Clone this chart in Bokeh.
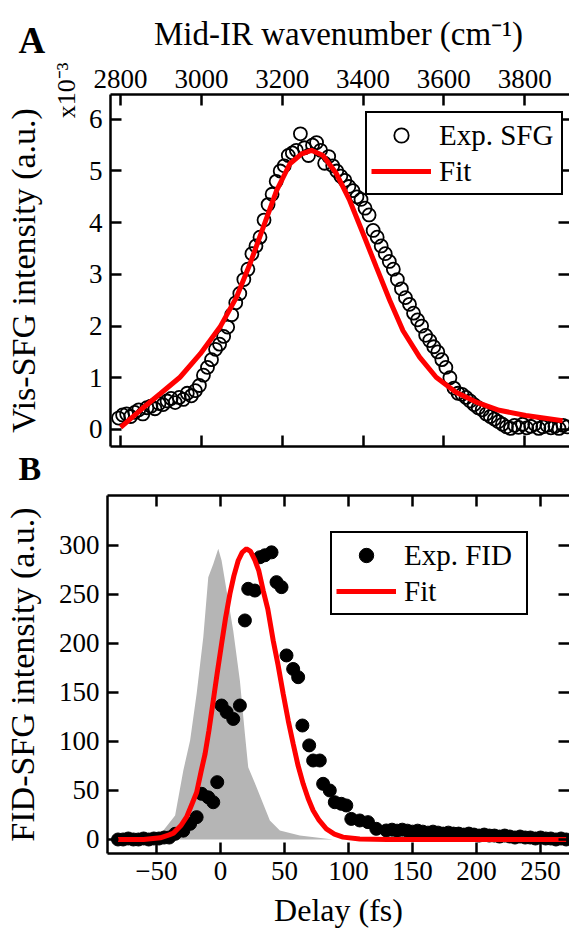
import math
from bokeh.plotting import figure
from bokeh.models import Range1d, LinearAxis, FixedTicker, Legend, LegendItem, Title, Plot
from bokeh.core.properties import value
from bokeh.layouts import column
from bokeh.embed import file_html
from bokeh.resources import INLINE

FONT = "Liberation Serif"

# ---------------- Panel A data ----------------
sfg_wn = [2795, 2805, 2815, 2825, 2835, 2845, 2855, 2865, 2875, 2885, 2895, 2905, 2915, 2925,
          2935, 2945, 2955, 2965, 2975, 2985, 2995, 3005, 3015, 3025, 3035, 3045, 3055, 3065,
          3075, 3085, 3095, 3105, 3115, 3125, 3135, 3145, 3155, 3165, 3175, 3185, 3195, 3205,
          3215, 3225, 3235, 3245, 3255, 3265, 3275, 3285, 3295, 3305, 3315, 3325, 3335, 3345,
          3355, 3365, 3375, 3385, 3395, 3405, 3415, 3425, 3435, 3445, 3455, 3465, 3475, 3485,
          3495, 3505, 3515, 3525, 3535, 3545, 3555, 3565, 3575, 3585, 3595, 3605, 3615, 3625,
          3635, 3645, 3655, 3665, 3675, 3685, 3695, 3705, 3715, 3725, 3735, 3745, 3755, 3765,
          3775, 3785, 3795, 3805, 3815, 3825, 3835, 3845, 3855, 3865, 3875, 3885, 3895, 3905]
sfg_int = [0.22, 0.28, 0.30, 0.25, 0.33, 0.38, 0.30, 0.42, 0.45, 0.40, 0.50, 0.48, 0.55, 0.60,
           0.52, 0.62, 0.58, 0.70, 0.65, 0.75, 0.85, 1.05, 1.20, 1.35, 1.55, 1.65, 1.80, 1.98,
           2.22, 2.45, 2.63, 2.90, 3.10, 3.40, 3.55, 3.72, 4.05, 4.35, 4.55, 4.80, 5.00, 5.10,
           5.30, 5.35, 5.40, 5.72, 5.45, 5.30, 5.50, 5.55, 5.40, 5.15, 5.28, 5.10, 5.00, 4.90,
           4.82, 4.70, 4.62, 4.50, 4.45, 4.28, 4.15, 3.85, 3.72, 3.55, 3.40, 3.25, 3.10, 2.90,
           2.72, 2.55, 2.42, 2.25, 2.12, 2.00, 1.82, 1.72, 1.60, 1.50, 1.35, 1.20, 1.00, 0.80,
           0.70, 0.68, 0.62, 0.55, 0.48, 0.42, 0.38, 0.30, 0.25, 0.20, 0.15, 0.10, 0.05, 0.02,
           0.08, 0.04, 0.10, 0.03, 0.06, 0.10, 0.02, 0.05, 0.08, 0.03, 0.06, 0.02, 0.08, 0.05]

fitA_wn = [2800, 2850, 2898, 2947, 2997, 3046, 3087, 3120, 3153, 3186, 3219, 3248, 3272,
           3301, 3334, 3367, 3400, 3433, 3466, 3499, 3540, 3581, 3630, 3680, 3737, 3803, 3894]
fitA_int = [0.04, 0.38, 0.69, 1.01, 1.46, 1.98, 2.56, 3.20, 3.91, 4.62, 5.14, 5.33, 5.40,
            5.30, 4.95, 4.43, 3.79, 3.14, 2.50, 1.91, 1.40, 1.01, 0.72, 0.53, 0.37, 0.27, 0.17]

wn_ticks = [2800, 3000, 3200, 3400, 3600, 3800]
a_yticks = [0, 1, 2, 3, 4, 5, 6]

# ---------------- Panel B data ----------------
fid_delay = [-80, -76, -72, -68, -64, -60, -56, -52, -48, -44, -40, -35.4, -29, -23.7, -18.6,
             -14.7, -9.5, -5.6, -2.5, 0.9, 4.8, 10, 15.2, 19.1, 21.7, 26.9, 30.8, 34.7, 39.9,
             43.8, 47.7, 51.6, 56.8, 60.7, 64, 69.3, 72.4, 77.6, 80.2, 85.4, 89.3, 94.4, 98.3,
             102.2, 108.8, 115.2, 121.7, 129.5, 134, 138, 142, 146, 150, 154, 158, 162, 166,
             170, 174, 178, 182, 186, 190, 194, 198, 202, 206, 210, 214, 218, 222, 226, 230,
             234, 238, 242, 246, 250, 254, 258, 262, 266, 270]
fid_int = [0, 0, 1, 0, 0, 1, 0, 1, 1, 2, 2, 5.8, 9, 16, 22.8,
           46.6, 43, 38, 58.5, 136.7, 130, 123, 136.7, 223.5, 255.8, 254, 288, 290, 293,
           262.6, 257.5, 187.8, 174, 165.6, 116.3, 96, 80.6, 80.6, 56.8, 50, 38, 36.4, 34.7,
           21, 19.4, 17.7, 10.9, 9.2, 10, 9, 10, 9, 8, 9, 8, 7, 8,
           7, 6, 7, 6, 6, 5, 6, 5, 4, 5, 4, 4, 3, 4, 3, 2,
           3, 2, 2, 1, 2, 1, 1, 0, 1, 0]

fitB_delay = [-80, -60, -47, -40, -36.7, -31, -26.4, -22, -18.6, -15, -12, -9, -5.6, -2.5, 0.9,
              4, 7.4, 10.5, 13.9, 17, 20.4, 23.5, 26.9, 30, 33.4, 37, 41.2, 45, 49, 53, 56.8,
              60.5, 64.6, 68.5, 72.4, 77, 82.7, 89, 95.7, 108.8, 130, 170, 220, 270]
fitB_int = [0, 0, 1.7, 4.7, 6.5, 14, 23, 37, 48, 70, 87.4, 111, 141.8, 170, 199.7,
            226, 250.7, 269, 284.7, 293, 296.6, 294, 285, 274, 254, 235, 203, 178, 148.7, 121, 97.7,
            76, 56.8, 41.8, 29.6, 19.7, 10.9, 5.5, 2.4, 0.5, 0, 0, 0, 0]

irf_delay = [-49.7, -35.4, -29, -23.7, -18.6, -13.4, -9.5, -5.6, -1.7, 0.9, 4.8, 10, 15.2,
             19.1, 21.7, 28.2, 38.6, 46.4, 62, 88]
irf_int = [0.7, 24.5, 70.4, 101, 148.6, 206.4, 267.7, 281, 296.6, 284.7, 254, 213, 162,
           107.8, 73.8, 53.4, 19.4, 9.2, 4.1, 0]
irf_base = [0] * len(irf_delay)

delay_ticks = [-50, 0, 50, 100, 150, 200, 250]
b_yticks = [0, 50, 100, 150, 200, 250, 300]

RED = "#ff0000"
GRAY = "#b5b5b5"
W = 569
HAS_FRAME_ALIGN = "frame_align" in Plot.properties()
MID = 0.3375  # offset of the drawn text centre above its baseline, in em


def no_align(p):
    if HAS_FRAME_ALIGN:
        p.frame_align = False


def style_axis(ax, ticks, labels=True, size="27px", line=True):
    ax.ticker = FixedTicker(ticks=ticks)
    ax.major_tick_in = 11
    ax.major_tick_out = 0
    ax.minor_tick_in = 0
    ax.minor_tick_out = 0
    ax.major_tick_line_width = 2.5
    ax.major_tick_line_color = "black"
    ax.axis_line_width = 2.5
    ax.axis_line_color = "black" if line else None
    if labels:
        ax.major_label_text_font = FONT
        ax.major_label_text_font_size = size
        ax.major_label_text_color = "black"
    else:
        ax.major_label_text_font_size = "0px"
        ax.major_label_text_color = None
        ax.major_label_standoff = 0


def style_label(ax, size="33px", standoff=8):
    ax.axis_label_text_font = FONT
    ax.axis_label_text_font_size = size
    ax.axis_label_text_font_style = "normal"
    ax.axis_label_text_color = "black"
    ax.axis_label_standoff = standoff


def style_legend(leg, loc):
    leg.location = loc
    leg.label_text_font = FONT
    leg.label_text_font_size = "29px"
    leg.label_text_color = "black"
    leg.glyph_width = 60
    leg.glyph_height = 36
    leg.label_height = 36
    leg.label_width = 118
    leg.label_standoff = 8
    leg.padding = 4
    leg.spacing = 0
    leg.margin = 0
    leg.border_line_color = "black"
    leg.border_line_alpha = 1.0
    leg.border_line_width = 2.5
    leg.background_fill_color = "white"
    leg.background_fill_alpha = 1.0


def clean(p):
    p.outline_line_color = None
    p.background_fill_color = "white"
    p.border_fill_color = "white"
    p.xgrid.grid_line_color = None
    p.ygrid.grid_line_color = None
    no_align(p)


def text_strip(h):
    # a strip whose frame is the whole canvas; y runs downward in pixels
    s = figure(frame_width=W, frame_height=h, x_range=Range1d(0, W), y_range=Range1d(h, 0),
               output_backend="svg", toolbar_location=None, x_axis_location=None,
               y_axis_location=None, min_border=0)
    clean(s)
    return s


def strip_text(s, x, baseline, txt, size, bold=False, align="left"):
    s.text(x=[x], y=[baseline - MID * size], text=[txt], text_font=value(FONT),
           text_font_size=f"{size}px", text_font_style="bold" if bold else "normal",
           text_baseline="middle", text_align=align, text_color="black")


# ---------------- header strip (panel letter A + top axis title) ----------------
HEAD = 60
head = text_strip(HEAD)
strip_text(head, 18, 52, "A", 37, bold=True)
strip_text(head, 338, 45, "Mid-IR wavenumber (cm\u207b\u00b9)", 33, align="center")

# ---------------- Figure A ----------------
pA = figure(width=W, height=449 - HEAD, x_range=Range1d(2775, 3911), y_range=Range1d(-0.33, 6.48),
            output_backend="svg", toolbar_location=None, x_axis_location=None, y_axis_location=None,
            min_border_left=107, min_border_right=0, min_border_top=94 - HEAD, min_border_bottom=3)
clean(pA)

axA_top = LinearAxis()
style_axis(axA_top, wn_ticks)
axA_top.major_label_standoff = 7
pA.add_layout(axA_top, "above")
axA_bot = LinearAxis()
style_axis(axA_bot, wn_ticks, labels=False)
pA.add_layout(axA_bot, "below")
axA_left = LinearAxis()
style_axis(axA_left, a_yticks)
axA_left.major_label_standoff = 8
pA.add_layout(axA_left, "left")
axA_right = LinearAxis()
style_axis(axA_right, a_yticks, labels=False, line=False)
pA.add_layout(axA_right, "right")

pA.add_layout(Title(text="x10\u207b\u00b3", text_font=FONT, text_font_size="26px",
                    text_font_style="normal", text_color="black", align="right",
                    vertical_align="bottom", offset=-32, standoff=10), "left")
pA.add_layout(Title(text="Vis-SFG intensity (a.u.)", text_font=FONT, text_font_size="34px",
                    text_font_style="normal", text_color="black", align="center",
                    vertical_align="bottom", standoff=5), "left")

rA_pts = pA.scatter(sfg_wn, sfg_int, marker="circle", size=13, fill_color=None,
                    line_color="black", line_width=1.8)
rA_fit = pA.line(fitA_wn, fitA_int, line_color=RED, line_width=5)

legA = Legend(items=[LegendItem(label="Exp. SFG", renderers=[rA_pts]),
                     LegendItem(label="Fit", renderers=[rA_fit])])
style_legend(legA, (255, 251))
pA.add_layout(legA)

# ---------------- separator strip (panel letter B) ----------------
SEP = 43
sep = text_strip(SEP)
strip_text(sep, 18, 30, "B", 34, bold=True)

# ---------------- Figure B ----------------
pB = figure(width=W, height=930 - 449 - SEP, x_range=Range1d(-88.2, 272.6), y_range=Range1d(-14.3, 351),
            output_backend="svg", toolbar_location=None, x_axis_location=None, y_axis_location=None,
            min_border_left=104, min_border_right=0, min_border_top=3, min_border_bottom=77)
clean(pB)

axB_top = LinearAxis()
style_axis(axB_top, delay_ticks, labels=False)
pB.add_layout(axB_top, "above")
axB_bot = LinearAxis(axis_label="Delay (fs)")
style_axis(axB_bot, delay_ticks)
axB_bot.major_label_standoff = 8
style_label(axB_bot, "32px", 9)
pB.add_layout(axB_bot, "below")
axB_left = LinearAxis(axis_label="FID-SFG intensity (a.u.)")
style_axis(axB_left, b_yticks)
axB_left.major_label_standoff = 8
style_label(axB_left, "34px", 15)
pB.add_layout(axB_left, "left")
axB_right = LinearAxis()
style_axis(axB_right, b_yticks, labels=False, line=False)
pB.add_layout(axB_right, "right")

pB.varea(x=irf_delay, y1=irf_base, y2=irf_int, fill_color=GRAY, fill_alpha=1.0)
rB_pts = pB.scatter(fid_delay, fid_int, marker="circle", size=13, fill_color="black",
                    line_color="black")
rB_fit = pB.line(fitB_delay, fitB_int, line_color=RED, line_width=5)

legB = Legend(items=[LegendItem(label="Exp. FID", renderers=[rB_pts]),
                     LegendItem(label="Fit", renderers=[rB_fit])])
style_legend(legB, (223, 238))
pB.add_layout(legB)

layout = column(head, pA, sep, pB, spacing=0)
open("out.html", "w").write(file_html(layout, INLINE))
